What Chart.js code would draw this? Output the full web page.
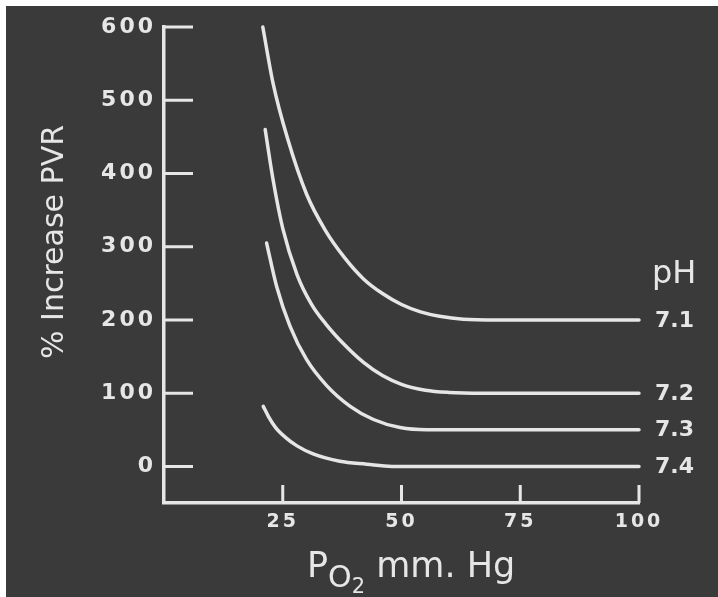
<!DOCTYPE html>
<html>
<head>
<meta charset="utf-8">
<script src="https://cdn.jsdelivr.net/npm/chart.js@4/dist/chart.umd.min.js"></script>
<style>
    html, body { margin: 0; padding: 0; background: #ffffff; }
    #wrap { position: absolute; left: 6px; top: 6px; width: 712px; height: 591px; background: #3a3a3a; }
</style>
</head>
<body>
<div id="wrap"><canvas id="pvr" width="712" height="591"></canvas></div>
<script>
var PH_LABELS = ["7.1", "7.2", "7.3", "7.4"];

// PO2 (mm Hg) and % increase PVR
var PO2_71 = [20.8, 23, 26, 30, 34, 38, 42, 46, 50, 54, 58, 63, 70, 100];
var PVR_71 = [600, 522, 448, 372, 322, 285, 256, 236, 221, 211, 205, 201, 200, 200];

var PO2_72 = [21.3, 23, 25, 28, 31, 34, 38, 42, 46, 50, 55, 60, 67, 100];
var PVR_72 = [460, 390, 325, 262, 222, 195, 166, 142, 124, 112, 104, 101, 100, 100];

var PO2_73 = [21.6, 23.7, 26.5, 30, 34.3, 39.2, 44.1, 49.7, 55.3, 62, 100];
var PVR_73 = [305, 246, 192, 146, 110, 82, 64, 53, 50, 50, 50];

var PO2_74 = [20.9, 22, 23.5, 25.5, 28, 31.4, 37, 42.7, 48, 55, 100];
var PVR_74 = [82, 68, 53, 40, 28, 17, 7, 3, 0, 0, 0];

var X_TITLE = ["P", "O", "2", " mm. Hg"];
var Y_TITLE = "% Increase PVR";
var PH_TITLE = "pH";

var INK = "#e6e6e6";

function toPoints(xs, ys) {
    return xs.map(function (x, i) {
        return { x: x, y: ys[i] };
    });
}

const data = {
    datasets: [
        { label: PH_LABELS[0], data: toPoints(PO2_71, PVR_71) },
        { label: PH_LABELS[1], data: toPoints(PO2_72, PVR_72) },
        { label: PH_LABELS[2], data: toPoints(PO2_73, PVR_73) },
        { label: PH_LABELS[3], data: toPoints(PO2_74, PVR_74) },
    ],
};

// inward ticks, axis titles and the pH labels at the end of each curve
const paperPlugin = {
    id: "paper",
    beforeDraw(chart) {
        // the old lettering is widely spaced
        chart.ctx.letterSpacing = "3px";
    },
    afterDraw(chart) {
        const ctx = chart.ctx;
        const area = chart.chartArea;
        const xs = chart.scales.x;
        const ys = chart.scales.y;

        ctx.save();
        ctx.letterSpacing = "0px";
        ctx.strokeStyle = INK;
        ctx.fillStyle = INK;
        ctx.lineWidth = 3;
        ctx.beginPath();
        ys.ticks.forEach(function (t) {
            const py = ys.getPixelForValue(t.value);
            ctx.moveTo(area.left, py);
            ctx.lineTo(area.left + 29, py);
        });
        xs.ticks.forEach(function (t) {
            const px = xs.getPixelForValue(t.value);
            ctx.moveTo(px, area.bottom);
            ctx.lineTo(px, area.bottom - 18);
        });
        ctx.stroke();

        // curve labels
        ctx.font = "bold 22px 'DejaVu Sans'";
        ctx.textAlign = "left";
        ctx.textBaseline = "middle";
        chart.data.datasets.forEach(function (ds) {
            const last = ds.data[ds.data.length - 1];
            ctx.fillText(ds.label, area.right + 16, ys.getPixelForValue(last.y) + 1);
        });
        ctx.textBaseline = "alphabetic";
        ctx.font = "32px 'DejaVu Sans'";
        ctx.fillText(PH_TITLE, area.right + 13, area.top + 256);

        // y title
        ctx.save();
        ctx.translate(area.left - 101, (area.top + area.bottom) / 2 - 23);
        ctx.rotate(-Math.PI / 2);
        ctx.textAlign = "center";
        ctx.font = "30px 'DejaVu Sans'";
        ctx.fillText(Y_TITLE, 0, 0);
        ctx.restore();

        // x title, P with lowered O and subscript 2
        const parts = [
            { t: X_TITLE[0], size: 35, dy: 0 },
            { t: X_TITLE[1], size: 30, dy: 10 },
            { t: X_TITLE[2], size: 21, dy: 16 },
            { t: X_TITLE[3], size: 35, dy: 0 },
        ];
        let x = area.left + 143;
        const base = area.bottom + 74;
        ctx.textAlign = "left";
        parts.forEach(function (p) {
            ctx.font = p.size + "px 'DejaVu Sans'";
            ctx.fillText(p.t, x, base + p.dy);
            x += ctx.measureText(p.t).width;
        });
        ctx.restore();
    },
};

const config = {
    type: "line",
    data: data,
    options: {
        responsive: false,
        animation: false,
        events: [],
        layout: {
            padding: { left: 0, top: 21, right: 79, bottom: 0 },
        },
        elements: {
            point: { radius: 0 },
            line: {
                borderColor: INK,
                borderWidth: 3.5,
                borderCapStyle: "round",
                tension: 0.4,
                cubicInterpolationMode: "monotone",
            },
        },
        datasets: {
            line: { clip: false },
        },
        plugins: {
            legend: { display: false },
            tooltip: { enabled: false },
        },
        scales: {
            x: {
                type: "linear",
                min: 0,
                max: 100,
                afterBuildTicks: function (axis) {
                    axis.ticks = axis.ticks.filter(function (t) { return t.value > 0; });
                },
                afterFit: function (axis) {
                    axis.height = 94;
                },
                ticks: {
                    stepSize: 25,
                    maxRotation: 0,
                    padding: 0,
                    color: INK,
                    font: { family: "DejaVu Sans", weight: "bold", size: 19 },
                },
                grid: { display: false },
                border: { display: true, color: INK, width: 3.5 },
            },
            y: {
                min: -50,
                max: 600,
                afterBuildTicks: function (axis) {
                    axis.ticks = axis.ticks.filter(function (t) { return t.value >= 0; });
                },
                afterFit: function (axis) {
                    axis.width = 158;
                },
                ticks: {
                    stepSize: 100,
                    padding: 0,
                    color: INK,
                    font: { family: "DejaVu Sans", weight: "bold", size: 22 },
                },
                grid: { display: false },
                border: { display: true, color: INK, width: 3.5 },
            },
        },
    },
    plugins: [paperPlugin],
};

new Chart(document.getElementById("pvr"), config);
</script>
</body>
</html>
